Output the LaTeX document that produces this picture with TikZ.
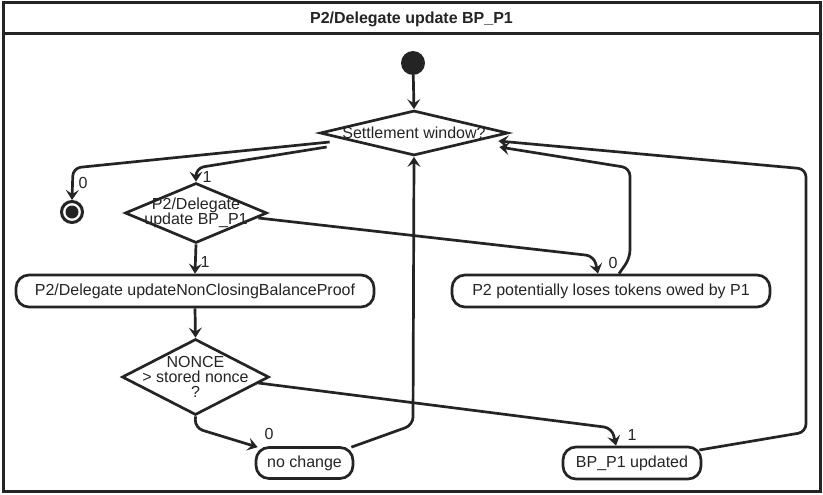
\documentclass[tikz,border=0pt]{standalone}
\usepackage{fontspec}
\setmainfont{Liberation Sans}
\usetikzlibrary{shapes.geometric,arrows.meta,calc}
\definecolor{ink}{HTML}{242424}
\begin{document}
\begin{tikzpicture}[x=1pt,y=-1pt,
  every node/.style={font=\fontsize{16}{18}\selectfont, text=ink},
  dia/.style 2 args={shape=diamond, draw=ink, line width=2.7pt, inner sep=0pt,
    minimum width=#1, minimum height=#2},
  act/.style 2 args={shape=rectangle, draw=ink, line width=2.7pt, rounded corners=13pt,
    inner sep=0pt, minimum width=#1, minimum height=#2},
  flow/.style={draw=ink, line width=2.7pt, line join=round, rounded corners=8pt,
    -{Stealth[length=10pt,width=13pt,inset=4pt]}},
  guard/.style={inner sep=0pt, font=\fontsize{16}{18}\selectfont}
]
\useasboundingbox (0,0) rectangle (823,495);
% frame
\draw[ink, line width=3pt] (3,3) rectangle (820,491);
\draw[ink, line width=3pt] (3,34) -- (820,34);
\node[font=\bfseries\fontsize{16}{18}\selectfont] (title) at (411.5,19) {P2/Delegate update BP\_P1};

% nodes
\node[circle, fill=ink, inner sep=0pt, minimum size=24pt] (start) at (413,63) {};
\node[circle, draw=ink, line width=3pt, inner sep=0pt, minimum size=21pt,
  path picture={\fill[ink] (path picture bounding box.center) circle (6.5pt);}] (end) at (72,212) {};
\node[dia={188pt}{45pt}, label={[inner sep=0pt]center:Settlement window?}] (d1) at (414,133) {};
\node[dia={142pt}{60pt}, label={[inner sep=0pt, align=center, font=\fontsize{16}{15}\selectfont]center:P2/Delegate\\update BP\_P1}] (d2) at (196,213) {};
\node[act={358pt}{32pt}] (nc) at (195,291) {P2/Delegate updateNonClosingBalanceProof};
\node[act={318pt}{32pt}] (pl) at (611,291) {P2 potentially loses tokens owed by P1};
\node[dia={147pt}{76pt}, label={[inner sep=0pt, align=center, font=\fontsize{16}{15}\selectfont]center:NONCE\\> stored nonce\\?}] (d3) at (195.5,377) {};
\node[act={97pt}{31pt}] (nch) at (304.5,463) {no change};
\node[act={138pt}{32pt}] (upd) at (632,463) {BP\_P1 updated};

% connectors
\draw[flow] (start) -- (d1.north);
\draw[flow] ($(d1.west)+(11,9)$) -- (73,168) -- (end.north);
\node[guard] (g0a) at (83,183) {0};
\draw[flow] ($(d1.west)+(8,14)$) -- (196,168) -- (d2.north);
\node[guard] (g1a) at (207,177) {1};
\draw[flow] ($(d2.east)+(-10,5)$) -- (594,256) -- ($(pl.north)+(-13,0)$);
\node[guard] (g0b) at (613,263) {0};
\draw[flow] (d2.south) -- (nc.north);
\node[guard] (g1b) at (205,262) {1};
\draw[flow] (nc.south) -- (d3.north);
\draw[flow] (d3.south) -- (195,428) -- ($(nch.north west)+(3,1)$);
\node[guard] (g0c) at (269,434) {0};
\draw[flow] ($(d3.east)+(-12,6)$) -- (612,428) -- ($(upd.north)+(-16,0)$);
\node[guard] (g1c) at (632,435) {1};
\draw[flow] ($(nch.north east)+(-3,1)$) -- (413,425) -- (d1.south);
\draw[flow] ($(pl.north)+(8,0)$) -- (630,258) -- (630,168) -- ($(d1.east)+(-10,14)$);
\draw[flow] ($(upd.east)+(-3,-13)$) -- (806,432) -- (806,169) -- ($(d1.east)+(-11,8)$);
\end{tikzpicture}
\end{document}
